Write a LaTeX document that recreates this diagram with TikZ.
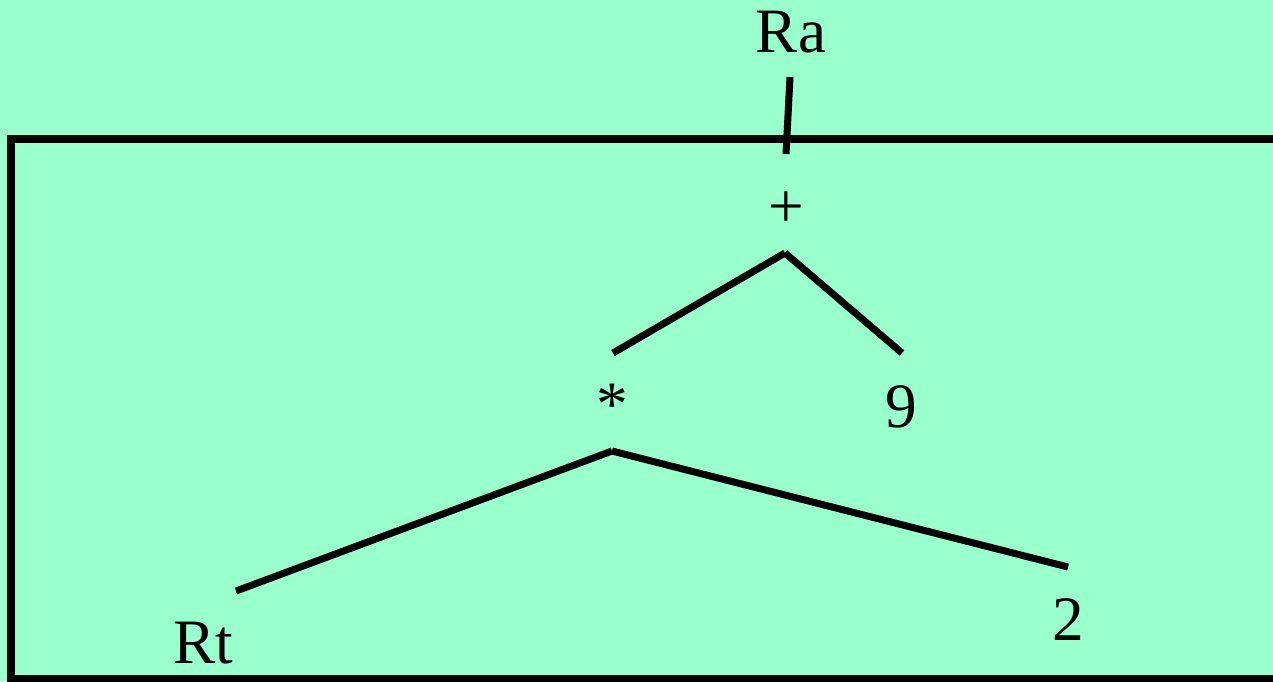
\documentclass[tikz,border=0pt]{standalone}
\usepackage{fontspec}
\setmainfont{Liberation Serif}

\begin{document}
\begin{tikzpicture}[x=0.02cm,y=-0.02cm,
    term/.style={inner sep=0pt, anchor=base, font=\fontsize{36}{40}\selectfont},
    branch/.style={line width=4pt, line cap=butt},
    frame/.style={line width=4.5pt}]
    % Define colours
    \definecolor{bgColour}{HTML}{99FFCC}
    \definecolor{inkColour}{HTML}{000000}

    % Background and page size
    \fill[bgColour] (0,0) rectangle (1273,681);
    \useasboundingbox (0,0) rectangle (1273,681);

    % Draw the box
    \draw[frame, draw=inkColour] (11,139) rectangle (1300,679);

    % Terms of the tree
    \node[term] (ra) at (791,52) {Ra};
    \node[term] (plus) at (786,227) {+};
    \node[term] (times) at (612,425) {*};
    \node[term] (nine) at (901,427) {9};
    \node[term] (rt) at (203,663) {Rt};
    \node[term] (two) at (1068,640) {2};

    % Line ends
    \coordinate (raLeg) at (790,77);
    \coordinate (raFoot) at (786,154);
    \coordinate (plusApex) at (785,253);
    \coordinate (timesTop) at (613,353);
    \coordinate (nineTop) at (902,353);
    \coordinate (timesApex) at (612,451);
    \coordinate (rtTop) at (236,591);
    \coordinate (twoTop) at (1068,567);

    % Draw branches
    \draw[branch] (raLeg) -- (raFoot);
    \draw[branch] (plusApex) -- (timesTop);
    \draw[branch] (plusApex) -- (nineTop);
    \draw[branch] (timesApex) -- (rtTop);
    \draw[branch] (timesApex) -- (twoTop);

\end{tikzpicture}
\end{document}
